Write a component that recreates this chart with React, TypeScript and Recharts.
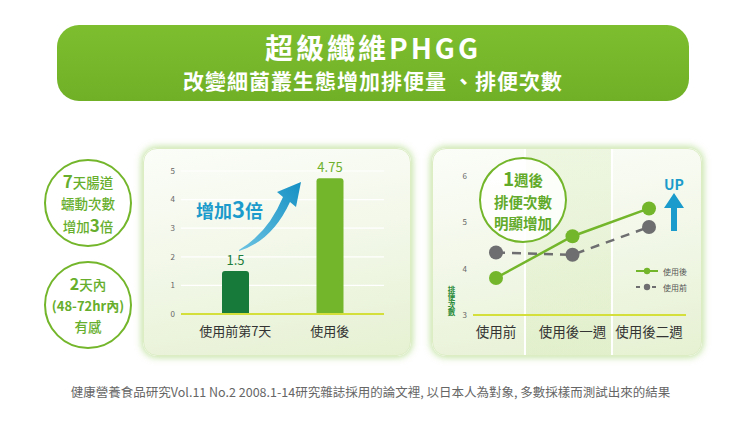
import React from 'react'
import {
  BarChart, Bar, Cell, LabelList, XAxis, YAxis, CartesianGrid, ReferenceLine,
  LineChart, Line, Legend,
} from 'recharts'

const barCategories = ['使用前第7天', '使用後']
const barValues = [1.5, 4.75]
const barTicks = [0, 1, 2, 3, 4, 5]

const lineCategories = ['使用前', '使用後一週', '使用後二週']
const afterValues = [3.8, 4.7, 5.3]
const beforeValues = [4.35, 4.3, 4.9]
const lineTicks = [3, 4, 5, 6]
const seriesNames = ['使用後', '使用前']

const FONT = '"Noto Sans CJK TC", "Noto Sans", sans-serif'
const GREEN = '#74b62b'
const DARK_GREEN = '#17793a'
const GRAY = '#6e6e70'
const BLUE = '#1b9bcb'
const BAR_COLORS = [DARK_GREEN, GREEN]
const LABEL_COLORS = ['#1d7d3c', '#6fb12c']

const barData = barCategories.map((name, i) => ({ name, value: barValues[i] }))
const lineData = lineCategories.map((name, i) => ({
  name,
  after: afterValues[i],
  before: beforeValues[i],
}))

const panelStyle: React.CSSProperties = {
  position: 'absolute',
  top: 148,
  height: 208,
  borderRadius: 14,
  boxShadow: '0 0 6px 2px rgba(150,205,90,0.5)',
  border: '1px solid #dcedc4',
  boxSizing: 'border-box',
  overflow: 'hidden',
}

function SideCircle({ top, children }: { top: number; children: React.ReactNode }) {
  return (
    <div
      style={{
        position: 'absolute',
        left: 44,
        top,
        width: 88,
        height: 88,
        borderRadius: '50%',
        border: `2px solid ${GREEN}`,
        boxSizing: 'border-box',
        background: '#fff',
        color: '#66ae2c',
        display: 'flex',
        flexDirection: 'column',
        alignItems: 'center',
        justifyContent: 'center',
        fontSize: 13.5,
        lineHeight: '21px',
        fontWeight: 500,
      }}
    >
      {children}
    </div>
  )
}

function LegendContent(props: any) {
  const items = [...(props.payload || [])].sort(
    (a: any, b: any) => seriesNames.indexOf(a.value) - seriesNames.indexOf(b.value)
  )
  return (
    <div style={{ fontFamily: FONT, position: 'absolute', left: 202, top: 114 }}>
      {items.map((item: any) => {
        const dashed = item.value === seriesNames[1]
        const color = dashed ? GRAY : GREEN
        return (
          <div key={item.value} style={{ display: 'flex', alignItems: 'center', height: 16 }}>
            <svg width={24} height={10}>
              <line x1={1} y1={5} x2={23} y2={5} stroke={color} strokeWidth={2}
                strokeDasharray={dashed ? '4 4' : undefined} />
              <circle cx={12} cy={5} r={3.2} fill={color} />
            </svg>
            <span style={{ fontSize: 8, color: '#555', marginLeft: 4, whiteSpace: 'nowrap' }}>
              {item.value}
            </span>
          </div>
        )
      })}
    </div>
  )
}

export default function App() {
  return (
    <div
      style={{
        position: 'absolute',
        left: 0,
        top: 0,
        width: 741,
        height: 425,
        background: '#fff',
        fontFamily: FONT,
        overflow: 'hidden',
      }}
    >
      {/* Header banner */}
      <div
        style={{
          position: 'absolute',
          left: 57,
          top: 25,
          width: 632,
          height: 76,
          borderRadius: 22,
          background: 'linear-gradient(180deg, #7dbe2f 0%, #70b027 100%)',
          color: '#fff',
          textAlign: 'center',
          fontWeight: 700,
        }}
      >
        <div style={{ fontSize: 28, lineHeight: '28px', marginTop: 8, letterSpacing: 3 }}>
          超級纖維PHGG
        </div>
        <div style={{ fontSize: 21, lineHeight: '24px', marginTop: 7, letterSpacing: 1 }}>
          改變細菌叢生態增加排便量 、排便次數
        </div>
      </div>

      {/* Side notes */}
      <SideCircle top={159}>
        <div><b style={{ fontSize: 17 }}>7</b>天腸道</div>
        <div>蠕動次數</div>
        <div>增加<b style={{ fontSize: 17 }}>3</b>倍</div>
      </SideCircle>
      <SideCircle top={261}>
        <div><b style={{ fontSize: 16 }}>2</b>天內</div>
        <div style={{ fontWeight: 700, fontSize: 13 }}>(48-72hr內)</div>
        <div>有感</div>
      </SideCircle>

      {/* Bar chart panel */}
      <div
        style={{
          ...panelStyle,
          left: 143,
          width: 268,
          background: 'linear-gradient(170deg, #fbfdf8 0%, #f3f8ea 45%, #e6f1d2 100%)',
        }}
      >
        <BarChart width={268} height={208} data={barData}
          margin={{ top: 22, right: 28, left: 0, bottom: 0 }}>
          <CartesianGrid horizontal vertical={false} stroke="#ffffff" strokeWidth={1.2} />
          <XAxis dataKey="name" axisLine={false} tickLine={false} height={43} tickMargin={7}
            padding={{ left: 7, right: 7 }} tick={{ fontSize: 13, fill: '#333' }} />
          <YAxis domain={[0, 5]} ticks={barTicks} width={37} axisLine={false} tickLine={false}
            tickMargin={0} tick={{ fontSize: 8, fill: '#666' }} />
          <ReferenceLine y={0} stroke="#d5df3c" strokeWidth={2} />
          <Bar dataKey="value" barSize={27} radius={[3, 3, 0, 0]} isAnimationActive={false}>
            {barData.map((d, i) => (
              <Cell key={d.name} fill={BAR_COLORS[i]} />
            ))}
            <LabelList dataKey="value" position="top" offset={5}
              content={(p: any) => (
                <text x={p.x + p.width / 2} y={p.y - 6} textAnchor="middle" fontSize={13}
                  fill={LABEL_COLORS[p.index]} fontFamily={FONT}>
                  {p.value}
                </text>
              )} />
          </Bar>
        </BarChart>
        {/* Annotation arrow */}
        <svg width={268} height={208} style={{ position: 'absolute', left: 0, top: 0 }}>
          <defs>
            <linearGradient id="arrowGrad" x1="0" y1="1" x2="1" y2="0">
              <stop offset="0%" stopColor="#6cc3e2" />
              <stop offset="100%" stopColor="#1590c4" />
            </linearGradient>
          </defs>
          <path d="M95,101 Q124,84 139,48 L133,43 L157,33 L152,58 L146,53 Q128,92 95,102 Z"
            fill="url(#arrowGrad)" />
        </svg>
        <div style={{ position: 'absolute', left: 52, top: 47, color: BLUE, fontSize: 18, fontWeight: 700,
          lineHeight: '24px' }}>
          增加<span style={{ fontSize: 22 }}>3</span>倍
        </div>
      </div>

      {/* Line chart panel */}
      <div
        style={{
          ...panelStyle,
          left: 432,
          width: 270,
          background:
            'linear-gradient(90deg, rgba(255,255,255,0) 0px, rgba(255,255,255,0) 91px, #ffffff 91px, #ffffff 93px, rgba(215,235,185,0.35) 93px, rgba(215,235,185,0.35) 178px, #ffffff 178px, #ffffff 180px, rgba(255,255,255,0) 180px), linear-gradient(170deg, #fbfdf8 0%, #f3f8ea 45%, #e6f1d2 100%)',
        }}
      >
        <LineChart width={270} height={208} data={lineData}
          margin={{ top: 27, right: 17, left: 0, bottom: 0 }}>
          <XAxis dataKey="name" scale="point" padding={{ left: 23, right: 37 }} axisLine={false}
            tickLine={false} height={42} tickMargin={6} tick={{ fontSize: 13.5, fill: '#333' }} />
          <YAxis domain={[3, 6]} ticks={lineTicks} width={40} axisLine={false} tickLine={false}
            tickMargin={0} tick={{ fontSize: 8, fill: '#666' }} />
          <ReferenceLine y={3} stroke="#d5df3c" strokeWidth={2} />
          <Line dataKey="after" name={seriesNames[0]} stroke={GREEN} strokeWidth={2.5}
            dot={{ r: 7, fill: GREEN, stroke: GREEN, strokeWidth: 0 }} isAnimationActive={false} />
          <Line dataKey="before" name={seriesNames[1]} stroke={GRAY} strokeWidth={2.5}
            strokeDasharray="9 7" dot={{ r: 7, fill: GRAY, stroke: GRAY, strokeWidth: 0 }}
            isAnimationActive={false} />
          <Legend content={LegendContent} layout="horizontal" align="center" verticalAlign="middle"
            wrapperStyle={{ position: 'absolute', left: 0, top: 0, width: 0, height: 0 }} />
        </LineChart>
        <div style={{ position: 'absolute', left: 14, top: 137, writingMode: 'vertical-rl',
          fontSize: 7.5, lineHeight: '8px', fontWeight: 700, color: '#2a8a3a' }}>
          排便次數
        </div>
        <div
          style={{
            position: 'absolute',
            left: 46,
            top: 8,
            width: 88,
            height: 86,
            borderRadius: '50%',
            border: `2px solid ${GREEN}`,
            boxSizing: 'border-box',
            background: 'rgba(255,255,255,0.85)',
            color: '#62aa29',
            display: 'flex',
            flexDirection: 'column',
            alignItems: 'center',
            justifyContent: 'center',
            fontSize: 14.5,
            lineHeight: '21px',
            fontWeight: 700,
          }}
        >
          <div style={{ lineHeight: '22px' }}><span style={{ fontSize: 19 }}>1</span>週後</div>
          <div>排便次數</div>
          <div>明顯增加</div>
        </div>
        <div style={{ position: 'absolute', left: 231, top: 27, color: BLUE, fontSize: 14,
          fontWeight: 700, lineHeight: '16px' }}>UP</div>
        <svg width={30} height={45} style={{ position: 'absolute', left: 226, top: 42 }}>
          <path d="M15,2 L25,17 L18,17 L18,40 L12,40 L12,17 L5,17 Z" fill={BLUE} />
        </svg>
      </div>

      {/* Footer */}
      <div style={{ position: 'absolute', left: 0, top: 383, width: 741, textAlign: 'center',
        fontSize: 12.5, color: '#666', lineHeight: '18px' }}>
        健康營養食品研究Vol.11 No.2 2008.1-14研究雜誌採用的論文裡, 以日本人為對象, 多數採樣而測試出來的結果
      </div>
    </div>
  )
}
